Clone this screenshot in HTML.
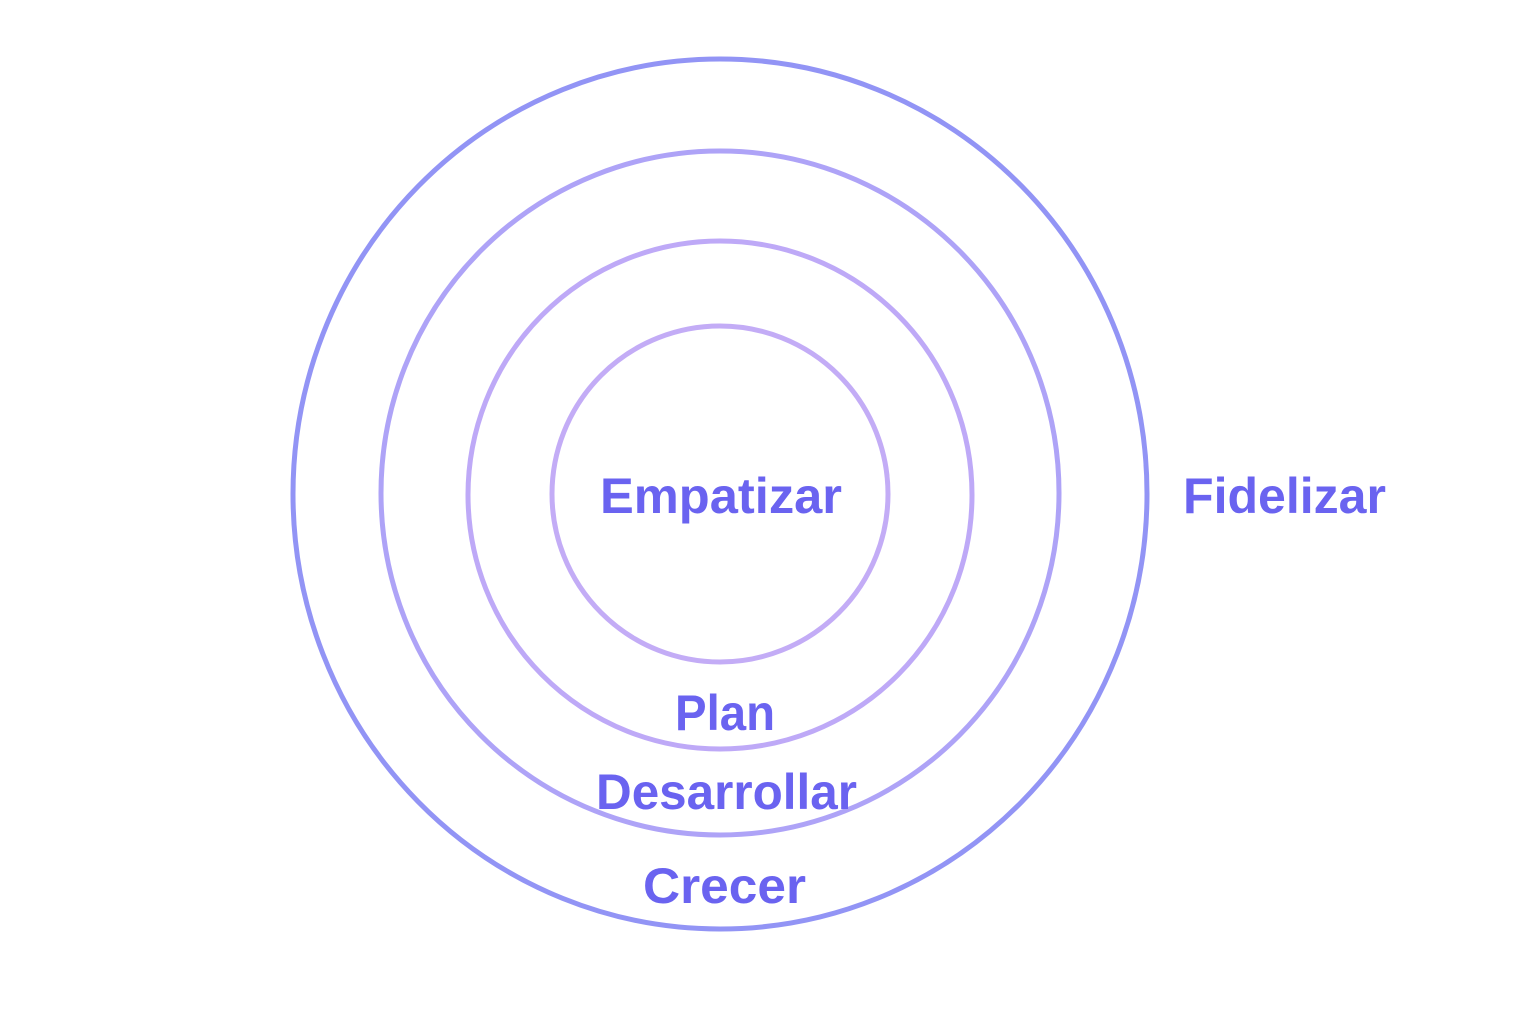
<!DOCTYPE html>
<html><head><meta charset="utf-8"><style>html,body{margin:0;padding:0;background:#fff}svg{display:block}</style></head>
<body>
<svg width="1536" height="1024" viewBox="0 0 1536 1024" xmlns="http://www.w3.org/2000/svg">
<rect width="1536" height="1024" fill="#fff"/>
<g fill="none" stroke-width="5">
<ellipse cx="720" cy="494" rx="427" ry="435" stroke="#9294f5"/>
<ellipse cx="720" cy="493" rx="339" ry="342" stroke="#aea3f7"/>
<ellipse cx="720" cy="495" rx="252" ry="254" stroke="#bea9f7"/>
<ellipse cx="720" cy="494" rx="168" ry="168" stroke="#c3acf6"/>
</g>
<g fill="#6a63f0" font-family="Liberation Sans, sans-serif" font-weight="bold" font-size="50">
<text x="600" y="513" textLength="242" lengthAdjust="spacingAndGlyphs">Empatizar</text>
<text x="1183" y="513" textLength="203" lengthAdjust="spacingAndGlyphs">Fidelizar</text>
<text x="675" y="730" textLength="100" lengthAdjust="spacingAndGlyphs">Plan</text>
<text x="596" y="809" textLength="261" lengthAdjust="spacingAndGlyphs">Desarrollar</text>
<text x="643" y="903" textLength="163" lengthAdjust="spacingAndGlyphs">Crecer</text>
</g>
</svg>
</body></html>
